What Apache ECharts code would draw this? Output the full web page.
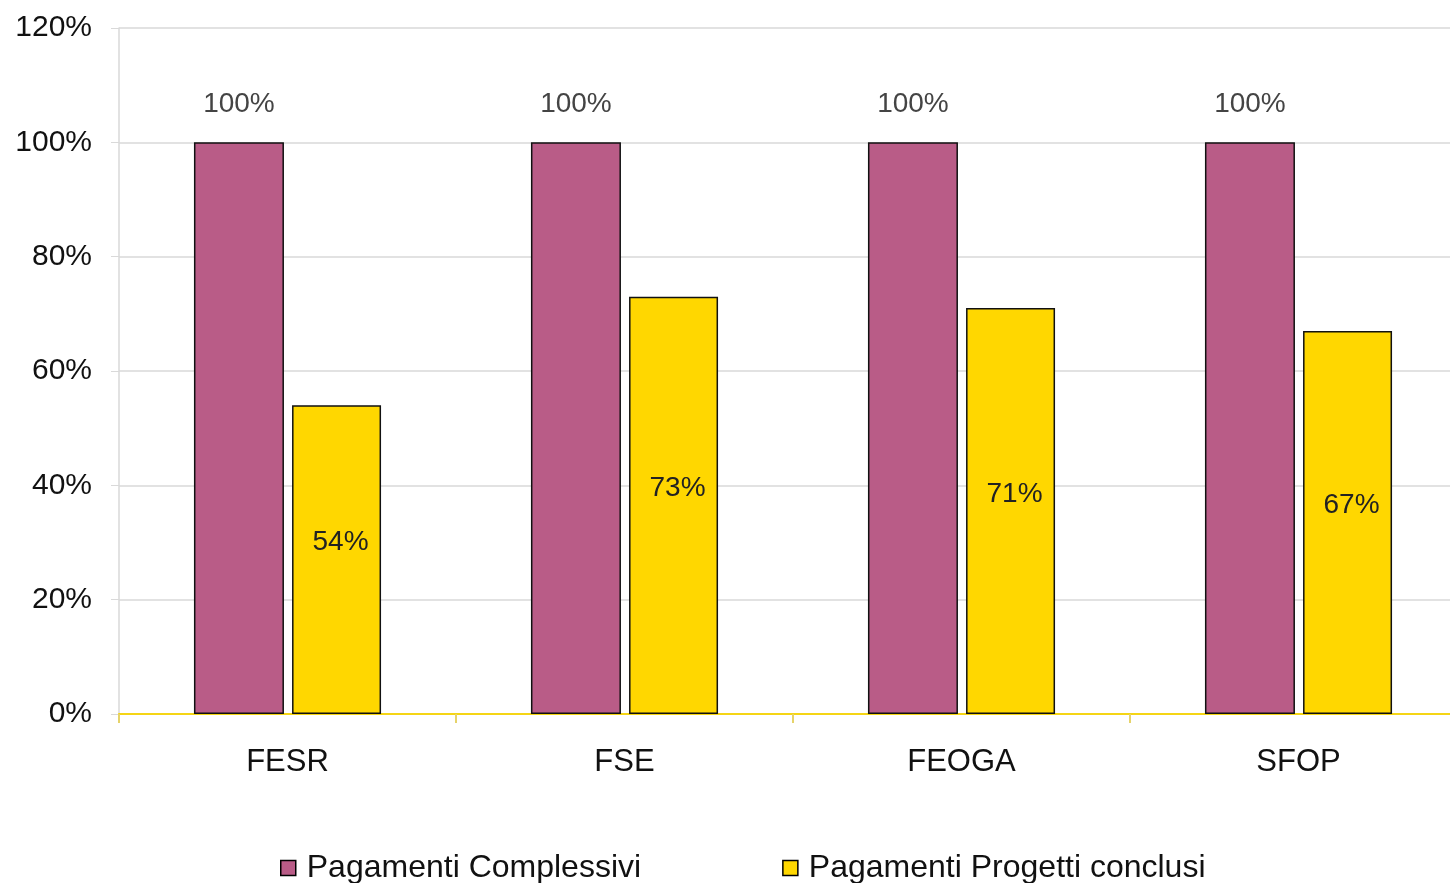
<!DOCTYPE html>
<html>
<head>
<meta charset="utf-8">
<script src="https://cdn.jsdelivr.net/npm/echarts@6/dist/echarts.min.js"></script>
<style>html,body{margin:0;padding:0;background:#fff}#c{width:1450px;height:883px}</style>
</head>
<body>
<div id="c"></div>
<script>
const categories = ['FESR', 'FSE', 'FEOGA', 'SFOP'];
const seriesNames = ['Pagamenti Complessivi', 'Pagamenti Progetti conclusi'];
const pagamentiComplessivi = [100, 100, 100, 100];
const pagamentiProgettiConclusi = [54, 73, 71, 67];
const yTicks = [0, 20, 40, 60, 80, 100, 120];

const chart = echarts.init(document.getElementById('c'));
const font = '"Liberation Sans", Arial, sans-serif';
chart.setOption({
  animation: false,
  textStyle: { fontFamily: font },
  grid: { left: 119, width: 1348, top: 28, height: 686, outerBoundsMode: 'none', containLabel: false },
  legend: {
    left: 275, top: 847, itemWidth: 15, itemHeight: 15, itemGap: 141,
    icon: 'rect',
    itemStyle: { borderColor: '#000', borderWidth: 1.5 },
    textStyle: { fontSize: 32, color: '#111', fontFamily: font, padding: [0, 0, 0, 6] },
    data: seriesNames
  },
  xAxis: {
    type: 'category', data: categories,
    axisLine: { lineStyle: { color: '#f5d515', width: 2 } },
    axisTick: { show: true, length: 9, lineStyle: { color: '#e6d36a', width: 2 } },
    axisLabel: { fontSize: 31, color: '#111', margin: 33 }
  },
  yAxis: {
    type: 'value', min: yTicks[0], max: yTicks[yTicks.length - 1], interval: 20,
    axisLine: { show: true, lineStyle: { color: '#d9d9d9', width: 1.5 } },
    axisTick: { show: true, length: 8, lineStyle: { color: '#d9d9d9' } },
    splitLine: { lineStyle: { color: '#d9d9d9', width: 1.5 } },
    axisLabel: { fontSize: 30, color: '#111', margin: 27, formatter: v => v + '%' }
  },
  series: [
    {
      name: seriesNames[0], type: 'bar', data: pagamentiComplessivi,
      barWidth: 90, barGap: '9%',
      itemStyle: { color: '#b95c87', borderColor: '#111', borderWidth: 1.5 },
      label: { show: true, position: 'top', distance: 24, fontSize: 28, color: '#444', formatter: p => p.value + '%' }
    },
    {
      name: seriesNames[1], type: 'bar', data: pagamentiProgettiConclusi,
      barWidth: 89,
      itemStyle: { color: '#ffd700', borderColor: '#111', borderWidth: 1.5 },
      label: { show: true, position: 'inside', offset: [4, -17], fontSize: 28, color: '#222', formatter: p => p.value + '%' }
    }
  ]
});
</script>
</body>
</html>
